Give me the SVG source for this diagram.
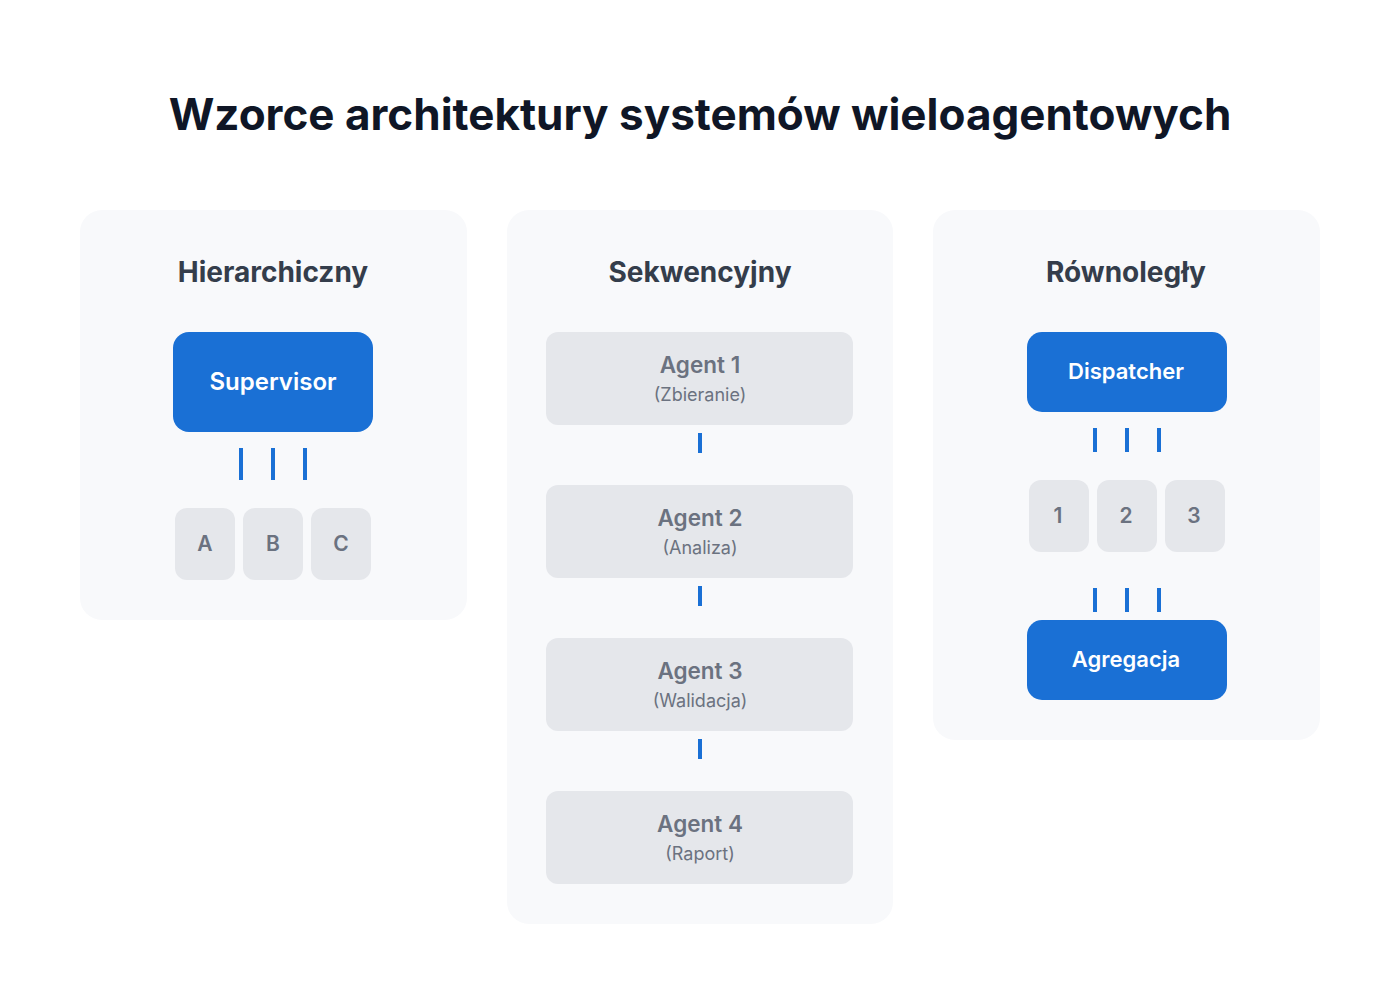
<svg xmlns="http://www.w3.org/2000/svg" width="1400" height="1000" viewBox="0 0 1400 1000">
<style>
text{font-family:Inter,"Noto Sans","Liberation Sans",sans-serif;text-anchor:middle}
.title{font-size:44px;font-weight:700;fill:#0f1626}
.ptitle{font-size:28px;font-weight:700;fill:#343d4b}
.panel{fill:#f8f9fb}
.blue{fill:#1a70d5}
.gray{fill:#e5e7eb}
.wt{font-size:22px;font-weight:600;fill:#ffffff}
.wt24{font-size:24px;font-weight:600;fill:#ffffff}
.gt{font-size:21px;font-weight:600;fill:#6b7280}
.at{font-size:22.5px;font-weight:600;fill:#6b7280}
.st{font-size:18px;font-weight:400;fill:#6b7280}
.conn line{stroke:#1a70d5;stroke-width:4}
</style>
<rect width="1400" height="1000" fill="#ffffff"/>
<text class="title" x="700" y="130">Wzorce architektury systemów wieloagentowych</text>

<g id="panel-hierarchiczny">
<rect class="panel" x="80" y="210" width="387" height="410" rx="22"/>
<text class="ptitle" x="273" y="282">Hierarchiczny</text>
</g>
<g id="panel-sekwencyjny">
<rect class="panel" x="507" y="210" width="386" height="714" rx="22"/>
<text class="ptitle" x="700" y="282">Sekwencyjny</text>
</g>
<g id="panel-rownolegly">
<rect class="panel" x="933" y="210" width="387" height="530" rx="22"/>
<text class="ptitle" x="1126" y="282">Równoległy</text>
</g>

<g id="connectors" class="conn">
<line x1="241" y1="448" x2="241" y2="480"/>
<line x1="273" y1="448" x2="273" y2="480"/>
<line x1="305" y1="448" x2="305" y2="480"/>
<line x1="700" y1="433" x2="700" y2="453"/>
<line x1="700" y1="586" x2="700" y2="606"/>
<line x1="700" y1="739" x2="700" y2="759"/>
<line x1="1095" y1="428" x2="1095" y2="452"/>
<line x1="1127" y1="428" x2="1127" y2="452"/>
<line x1="1159" y1="428" x2="1159" y2="452"/>
<line x1="1095" y1="588" x2="1095" y2="612"/>
<line x1="1127" y1="588" x2="1127" y2="612"/>
<line x1="1159" y1="588" x2="1159" y2="612"/>
</g>

<g id="supervisor">
<rect class="blue" x="173" y="332" width="200" height="100" rx="16"/>
<text class="wt24" x="273" y="390">Supervisor</text>
</g>
<g id="agent-a">
<rect class="gray" x="175" y="508" width="60" height="72" rx="12"/>
<text class="gt" x="205" y="551">A</text>
</g>
<g id="agent-b">
<rect class="gray" x="243" y="508" width="60" height="72" rx="12"/>
<text class="gt" x="273" y="551">B</text>
</g>
<g id="agent-c">
<rect class="gray" x="311" y="508" width="60" height="72" rx="12"/>
<text class="gt" x="341" y="551">C</text>
</g>

<g id="agent-1">
<rect class="gray" x="546" y="332" width="307" height="93" rx="12"/>
<text class="at" x="700" y="373">Agent 1</text>
<text class="st" x="700" y="401">(Zbieranie)</text>
</g>
<g id="agent-2">
<rect class="gray" x="546" y="485" width="307" height="93" rx="12"/>
<text class="at" x="700" y="526">Agent 2</text>
<text class="st" x="700" y="554">(Analiza)</text>
</g>
<g id="agent-3">
<rect class="gray" x="546" y="638" width="307" height="93" rx="12"/>
<text class="at" x="700" y="679">Agent 3</text>
<text class="st" x="700" y="707">(Walidacja)</text>
</g>
<g id="agent-4">
<rect class="gray" x="546" y="791" width="307" height="93" rx="12"/>
<text class="at" x="700" y="832">Agent 4</text>
<text class="st" x="700" y="860">(Raport)</text>
</g>

<g id="dispatcher">
<rect class="blue" x="1027" y="332" width="200" height="80" rx="15"/>
<text class="wt" x="1126" y="379">Dispatcher</text>
</g>
<g id="worker-1">
<rect class="gray" x="1029" y="480" width="60" height="72" rx="12"/>
<text class="gt" x="1058" y="523">1</text>
</g>
<g id="worker-2">
<rect class="gray" x="1097" y="480" width="60" height="72" rx="12"/>
<text class="gt" x="1126" y="523">2</text>
</g>
<g id="worker-3">
<rect class="gray" x="1165" y="480" width="60" height="72" rx="12"/>
<text class="gt" x="1194" y="523">3</text>
</g>
<g id="agregacja">
<rect class="blue" x="1027" y="620" width="200" height="80" rx="15"/>
<text class="wt" x="1126" y="667">Agregacja</text>
</g>
</svg>
